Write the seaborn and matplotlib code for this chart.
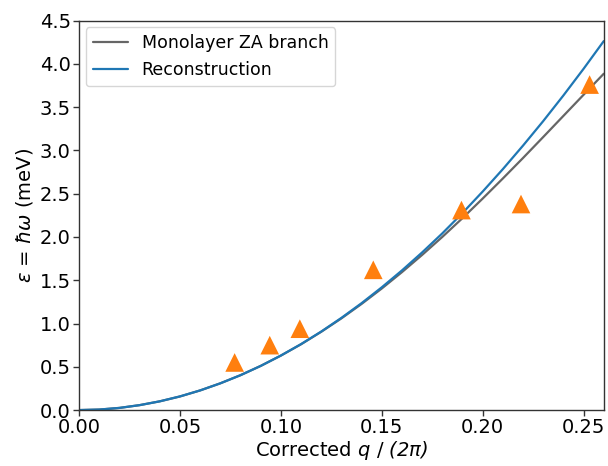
import numpy as np
import pandas as pd
import matplotlib
matplotlib.use("Agg")
import matplotlib.pyplot as plt
import seaborn as sns

# curve values (q/(2pi), energy in meV)
q_curve = [0.00, 0.01, 0.02, 0.03, 0.04, 0.05, 0.06, 0.07, 0.08, 0.09, 0.10, 0.11, 0.12, 0.13,
           0.14, 0.15, 0.16, 0.17, 0.18, 0.19, 0.20, 0.21, 0.22, 0.23, 0.24, 0.25, 0.26]
za_branch = [0.000, 0.006, 0.025, 0.057, 0.101, 0.157, 0.227, 0.309, 0.403, 0.510, 0.629, 0.760,
             0.904, 1.059, 1.226, 1.404, 1.593, 1.792, 2.000, 2.217, 2.443, 2.675, 2.912, 3.154,
             3.398, 3.642, 3.885]
reconstruction = [0.000, 0.006, 0.025, 0.057, 0.101, 0.158, 0.227, 0.309, 0.403, 0.510, 0.630, 0.762,
                  0.907, 1.065, 1.235, 1.418, 1.613, 1.821, 2.041, 2.276, 2.524, 2.783, 3.055, 3.338,
                  3.634, 3.942, 4.262]

# measured points
q_meas = [0.0771, 0.0945, 0.1094, 0.1458, 0.1895, 0.2190, 0.2530]
eps_meas = [0.55, 0.75, 0.94, 1.62, 2.31, 2.38, 3.76]

sns.set_style("ticks")
plt.rcParams["font.family"] = ["DejaVu Sans"]
plt.rcParams["text.color"] = "black"
plt.rcParams["axes.labelcolor"] = "black"
plt.rcParams["mathtext.fontset"] = "custom"
plt.rcParams["mathtext.rm"] = "DejaVu Sans:italic"
plt.rcParams["mathtext.it"] = "DejaVu Sans:italic"
plt.rcParams["mathtext.fallback"] = "stixsans"

curves = pd.DataFrame({
    "q": q_curve * 2,
    "eps": za_branch + reconstruction,
    "label": ["Monolayer ZA branch"] * len(q_curve) + ["Reconstruction"] * len(q_curve),
})
meas = pd.DataFrame({"q": q_meas, "eps": eps_meas})

fig = plt.figure(figsize=(6.08, 4.66), dpi=100)
ax = fig.add_axes([0.130, 0.120, 0.863, 0.836])

sns.lineplot(data=curves, x="q", y="eps", hue="label",
             palette={"Monolayer ZA branch": "#666666", "Reconstruction": "#1f77b4"},
             linewidth=1.6, ax=ax)
sns.scatterplot(data=meas, x="q", y="eps", marker="^", s=180, color="#ff7f0e",
                edgecolor="none", ax=ax, zorder=3)

ax.set_xlim(0, 0.26)
ax.set_ylim(0, 4.5)
ax.set_xticks([0.00, 0.05, 0.10, 0.15, 0.20, 0.25])
ax.set_yticks(np.arange(0, 4.51, 0.5))
ax.xaxis.set_major_formatter(matplotlib.ticker.FormatStrFormatter("%.2f"))
ax.yaxis.set_major_formatter(matplotlib.ticker.FormatStrFormatter("%.1f"))
ax.tick_params(labelsize=14, length=4, width=1, colors="0.2", labelcolor="black", pad=2)
for sp in ax.spines.values():
    sp.set_color("0.2")
    sp.set_linewidth(1)

ax.set_xlabel(r"Corrected $q$ / $\mathrm{(2\pi)}$", fontsize=14, labelpad=1)
ax.set_ylabel(r"$\varepsilon$ = $\hbar\omega$ (meV)", fontsize=14, labelpad=3)

leg = ax.legend(loc="upper left", fontsize=12.5, frameon=True, framealpha=0.8,
                edgecolor="0.8", borderaxespad=0.4)
for t in leg.get_texts():
    t.set_color("black")

fig.savefig("out.png", dpi=100)
